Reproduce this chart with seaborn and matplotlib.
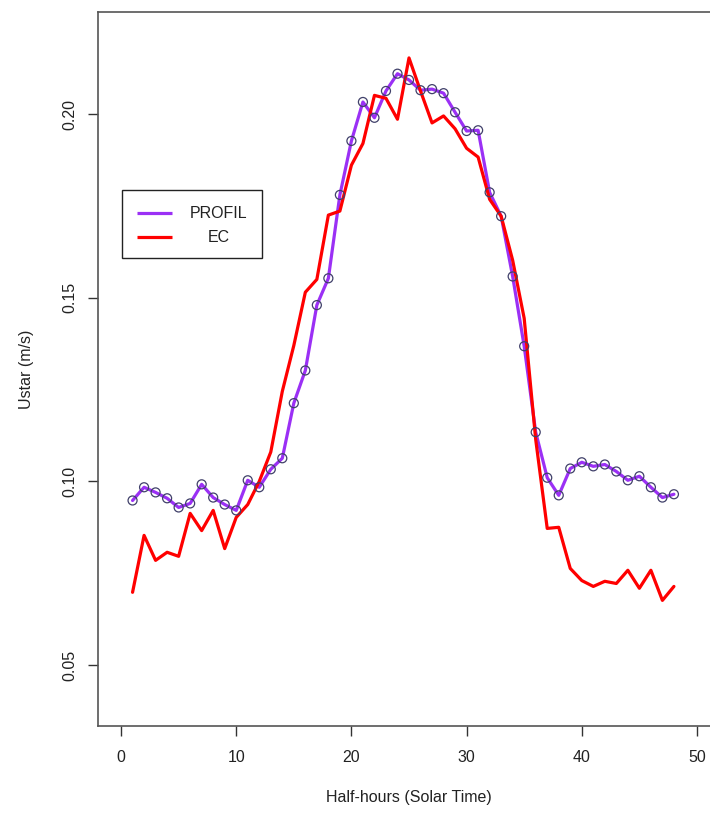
import numpy as np
import pandas as pd
import matplotlib
matplotlib.use("Agg")
import matplotlib.pyplot as plt
from matplotlib.patches import Rectangle
import seaborn as sns

# Half-hour index (solar time)
half_hours = list(range(1, 49))

# Friction velocity from the profile method
ustar_profil = [
    0.0948, 0.0984, 0.0970, 0.0954, 0.0929, 0.0940, 0.0992, 0.0956, 0.0937, 0.0921,
    0.1003, 0.0984, 0.1033, 0.1063, 0.1213, 0.1302, 0.1480, 0.1553, 0.1780, 0.1927,
    0.2033, 0.1990, 0.2063, 0.2110, 0.2093, 0.2065, 0.2068, 0.2057, 0.2005, 0.1954,
    0.1956, 0.1787, 0.1722, 0.1558, 0.1368, 0.1134, 0.1010, 0.0962, 0.1035, 0.1052,
    0.1041, 0.1046, 0.1027, 0.1003, 0.1014, 0.0984, 0.0956, 0.0965,
]

# Friction velocity from eddy covariance
ustar_ec = [
    0.0698, 0.0853, 0.0785, 0.0807, 0.0796, 0.0913, 0.0866, 0.0921, 0.0817, 0.0902,
    0.0937, 0.1000, 0.1080, 0.1245, 0.1370, 0.1515, 0.1550, 0.1725, 0.1736, 0.1861,
    0.1920, 0.2051, 0.2043, 0.1986, 0.2153, 0.2063, 0.1976, 0.1995, 0.1960, 0.1907,
    0.1883, 0.1768, 0.1722, 0.1602, 0.1444, 0.1114, 0.0872, 0.0875, 0.0763, 0.0730,
    0.0714, 0.0728, 0.0722, 0.0758, 0.0709, 0.0758, 0.0676, 0.0714,
]

series_names = ["PROFIL", "EC"]
series_colors = ["#9B30F5", "#FF0000"]

x_ticks = [0, 10, 20, 30, 40, 50]
y_ticks = [0.05, 0.10, 0.15, 0.20]

sns.set_style("white")
plt.rcParams["font.family"] = ["Liberation Sans", "DejaVu Sans"]

df = pd.DataFrame({
    "hh": half_hours * 2,
    "ustar": ustar_profil + ustar_ec,
    "method": [series_names[0]] * len(half_hours) + [series_names[1]] * len(half_hours),
})

fig = plt.figure(figsize=(7.10, 8.14), dpi=100)
W, H = 710, 814
BOX_L, BOX_R, BOX_T, BOX_B = 98, 720, 12, 726
ax = fig.add_axes([BOX_L / W, 1 - BOX_B / H, (BOX_R - BOX_L) / W, (BOX_B - BOX_T) / H])

sns.lineplot(data=df, x="hh", y="ustar", hue="method", hue_order=series_names,
             palette=series_colors, linewidth=2.3, legend=False, ax=ax,
             estimator=None, sort=False)

# open circles on the profile series
sns.scatterplot(x=half_hours, y=ustar_profil, ax=ax, marker="o", s=42,
                facecolor="none", edgecolor="#40406a", linewidth=0.9, legend=False,
                zorder=4)

ax.set_xlim(-2, 52)
ax.set_ylim(0.0334, 0.2278)
ax.set_xticks(x_ticks)
ax.set_xticklabels([str(t) for t in x_ticks])
ax.set_yticks(y_ticks)
ax.set_yticklabels([f"{t:.2f}" for t in y_ticks], rotation=90, va="center")

ax.tick_params(axis="both", which="major", direction="out", length=7, width=1,
               color="#333333", labelsize=11.5, labelcolor="#222222",
               bottom=True, left=True, top=False, right=False)
ax.tick_params(axis="x", pad=10)
ax.tick_params(axis="y", pad=8)
for s in ax.spines.values():
    s.set_color("#555555")
    s.set_linewidth(1.2)
    s.set_visible(True)

ax.set_xlabel("Half-hours (Solar Time)", fontsize=11.5, color="#222222", labelpad=18)
ax.set_ylabel("Ustar (m/s)", fontsize=11.5, color="#222222", labelpad=20)

# legend box drawn in axes coordinates
def ax_pt(px, py):
    return ((px - BOX_L) / (BOX_R - BOX_L), (BOX_B - py) / (BOX_B - BOX_T))

x0, y0 = ax_pt(122, 258)
x1, y1 = ax_pt(262, 190)
ax.add_patch(Rectangle((x0, y0), x1 - x0, y1 - y0, transform=ax.transAxes,
                       facecolor="white", edgecolor="#222222", linewidth=1.0, zorder=5))
for name, color, py in zip(series_names, series_colors, [213, 237]):
    lx0, ly = ax_pt(137, py)
    lx1, _ = ax_pt(172, py)
    ax.plot([lx0, lx1], [ly, ly], transform=ax.transAxes, color=color,
            linewidth=2.3, zorder=6, solid_capstyle="butt")
    tx, _ = ax_pt(219, py)
    ax.text(tx, ly, name, transform=ax.transAxes, ha="center", va="center",
            fontsize=11.5, color="#222222", zorder=6)

fig.savefig("out.png", dpi=100)
